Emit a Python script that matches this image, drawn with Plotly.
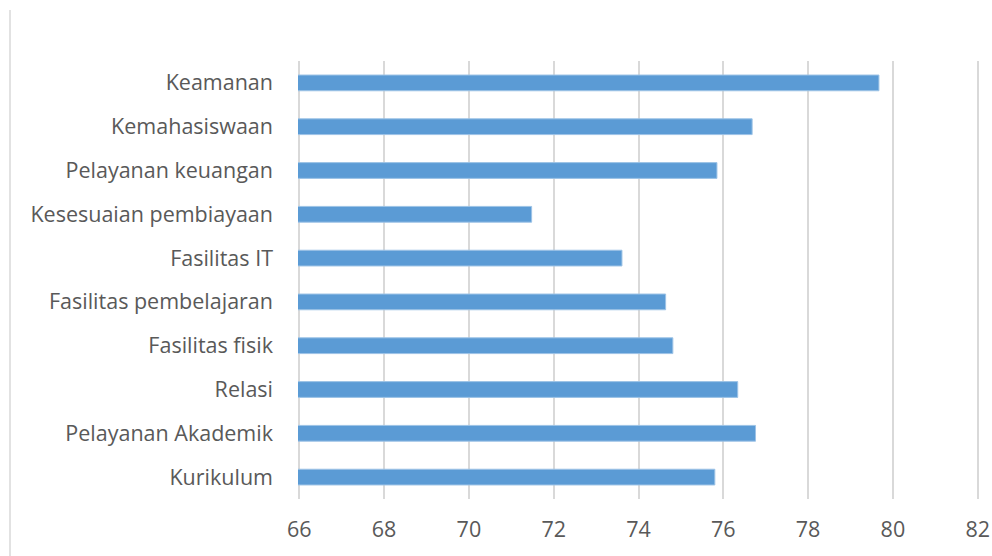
import plotly.graph_objects as go

categories = ["Kurikulum", "Pelayanan Akademik", "Relasi", "Fasilitas fisik",
              "Fasilitas pembelajaran", "Fasilitas IT", "Kesesuaian pembiayaan",
              "Pelayanan keuangan", "Kemahasiswaan", "Keamanan"]
values = [75.8, 76.76, 76.34, 74.81, 74.64, 73.61, 71.48, 75.85, 76.68, 79.67]
x_ticks = [66, 68, 70, 72, 74, 76, 78, 80, 82]

L, R, T, B = 298, 13, 61, 57
PW, PH = 992 - L - R, 556 - T - B

fig = go.Figure(go.Bar(
    x=values, y=categories, orientation="h", base=0,
    marker=dict(color="#5b9bd5", line=dict(color="#9dc3e6", width=1)),
))

fig.update_layout(
    width=992, height=556,
    margin=dict(l=L, r=R, t=T, b=B, autoexpand=False),
    paper_bgcolor="white", plot_bgcolor="white",
    bargap=0.64,
    showlegend=False,
    font=dict(family="Open Sans", size=21.5, color="#595959"),
    xaxis=dict(range=[65.97, 82.03], tickvals=x_ticks, ticktext=[str(t) for t in x_ticks],
               showgrid=True, gridcolor="#d9d9d9", gridwidth=1.5, automargin=False,
               zeroline=False, showline=False, ticks="", ticklabelstandoff=15,
               ticklabeloverflow="allow",
               tickfont=dict(family="Open Sans", size=21.5, color="#595959")),
    yaxis=dict(showgrid=False, showline=False, ticks="", ticklabelstandoff=24,
               automargin=False,
               tickfont=dict(family="Open Sans", size=21.5, color="#595959")),
    shapes=[dict(type="line", xref="paper", yref="paper",
                 x0=(10 - L) / PW, x1=(10 - L) / PW,
                 y0=-B / PH, y1=(PH + T - 10) / PH,
                 line=dict(color="#d9d9d9", width=1.5))],
)

fig.write_html("out.html", config={"displayModeBar": False},
               post_script="document.body.style.margin='0';document.body.style.overflow='hidden';")
